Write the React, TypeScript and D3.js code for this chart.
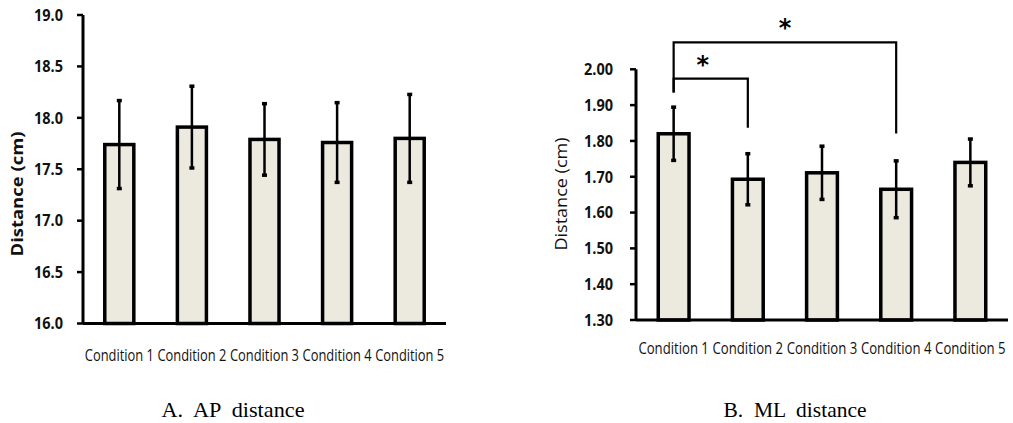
import React from 'react';
import * as d3 from 'd3';

// values
const conditions = ['Condition 1', 'Condition 2', 'Condition 3', 'Condition 4', 'Condition 5'];

const apMeans = [17.74, 17.91, 17.79, 17.76, 17.8];
const apErrors = [0.43, 0.4, 0.35, 0.39, 0.43];
const apTicks = [16.0, 16.5, 17.0, 17.5, 18.0, 18.5, 19.0];

const mlMeans = [1.82, 1.693, 1.711, 1.665, 1.74];
const mlErrors = [0.075, 0.072, 0.075, 0.08, 0.066];
const mlTicks = [1.3, 1.4, 1.5, 1.6, 1.7, 1.8, 1.9, 2.0];

// significance brackets for ML distance (in data units)
const mlBrackets = [
  { from: 0, to: 1, level: 1.974, leftEnd: 1.935, rightEnd: 1.837, shift: -8 },
  { from: 0, to: 3, level: 2.075, leftEnd: 1.935, rightEnd: 1.821, shift: 0 },
];

const FILL = '#ECE9DF';
const LABEL_FONT = "'Open Sans', 'Noto Sans', sans-serif";

type Bracket = { from: number; to: number; level: number; leftEnd: number; rightEnd: number; shift: number };

type PanelProps = {
  means: number[];
  errors: number[];
  ticks: number[];
  fmt: string;
  xRange: [number, number];
  yRange: [number, number];
  pad: number;
  tickX: number;
  titleX: number;
  titleLen: number;
  titleWeight: string;
  catY: number;
  caption: string;
  captionX: number;
  brackets?: Bracket[];
};

const Panel = ({ means, errors, ticks, fmt, xRange, yRange, pad, tickX, titleX, titleLen, titleWeight, catY, caption, captionX, brackets = [] }: PanelProps) => {
  const x = d3.scaleBand<string>().domain(conditions).range(xRange).paddingInner(pad).paddingOuter(0.3);
  const y = d3.scaleLinear().domain([ticks[0], ticks[ticks.length - 1]]).range(yRange);
  const f = d3.format(fmt);
  const bw = x.bandwidth();
  const cx = (i: number) => (x(conditions[i]) as number) + bw / 2;
  const x0 = xRange[0];
  const titleY = 194;

  return (
    <g>
      {/* bars */}
      {means.map((m, i) => (
        <rect key={i} x={x(conditions[i])} y={y(m)} width={bw} height={y(ticks[0]) - y(m)}
          fill={FILL} stroke="#000" strokeWidth={3.5} />
      ))}
      {/* error bars */}
      {means.map((m, i) => (
        <g key={'e' + i}>
          <line x1={cx(i)} x2={cx(i)} y1={y(m - errors[i])} y2={y(m + errors[i])} stroke="#000" strokeWidth={2.5} />
          <rect x={cx(i) - 2.5} y={y(m + errors[i]) - 1.5} width={5} height={3.5} fill="#000" />
          <rect x={cx(i) - 2.5} y={y(m - errors[i]) - 2} width={5} height={3.5} fill="#000" />
        </g>
      ))}
      {/* axes */}
      <line x1={x0} x2={x0} y1={yRange[1]} y2={yRange[0]} stroke="#000" strokeWidth={3} />
      <line x1={x0} x2={xRange[1]} y1={yRange[0]} y2={yRange[0]} stroke="#000" strokeWidth={3} />
      {ticks.map((t) => (
        <g key={t}>
          <line x1={x0 - 6} x2={x0} y1={y(t)} y2={y(t)} stroke="#000" strokeWidth={2.5} />
          <text x={tickX} y={y(t)} dy="0.36em" textAnchor="end" fontFamily={LABEL_FONT} fontWeight="bold" fontSize={16}
            fill="#111" textLength={29} lengthAdjust="spacingAndGlyphs">
            {f(t)}
          </text>
        </g>
      ))}
      <text transform={`translate(${titleX},${titleY}) rotate(-90)`} textAnchor="middle" dy="0.35em"
        fontFamily={LABEL_FONT} fontWeight={titleWeight} fontSize={16} fill="#111"
        textLength={titleLen} lengthAdjust="spacingAndGlyphs">
        Distance (cm)
      </text>
      {/* category labels */}
      {conditions.map((c, i) => (
        <text key={c} x={cx(i)} y={catY} textAnchor="middle" fontFamily={LABEL_FONT} fontSize={16}
          fill="#111" textLength={x.step() * 0.95} lengthAdjust="spacingAndGlyphs">
          {c}
        </text>
      ))}
      {/* significance brackets */}
      {brackets.map((b, i) => (
        <g key={'b' + i}>
          <path d={`M${cx(b.from)},${y(b.leftEnd)}V${y(b.level)}H${cx(b.to)}V${y(b.rightEnd)}`}
            fill="none" stroke="#000" strokeWidth={2.2} />
          <text x={(cx(b.from) + cx(b.to)) / 2 + b.shift} y={y(b.level) - 6} textAnchor="middle"
            fontFamily="'DejaVu Sans', sans-serif" fontWeight="bold" fontSize={24} fill="#000">
            *
          </text>
        </g>
      ))}
      <text x={captionX} y={417} textAnchor="middle" fontFamily="'Liberation Serif', 'Times New Roman', serif"
        fontSize={22} fill="#000" textLength={143} lengthAdjust="spacingAndGlyphs" style={{ whiteSpace: 'pre' }}>
        {caption}
      </text>
    </g>
  );
};

export default function App() {
  return (
    <svg width={1013} height={423} style={{ position: 'absolute', left: 0, top: 0, background: '#fff' }}>
      <rect width={1013} height={423} fill="#fff" />
      <Panel means={apMeans} errors={apErrors} ticks={apTicks} fmt=".1f"
        xRange={[83, 446]} yRange={[323.5, 15]} pad={0.6} tickX={63} titleX={17} titleLen={125} titleWeight="bold"
        catY={361} caption="A.  AP  distance" captionX={233} />
      <Panel means={mlMeans} errors={mlErrors} ticks={mlTicks} fmt=".2f"
        xRange={[636, 1008]} yRange={[320, 69.3]} pad={0.585} tickX={613} titleX={561} titleLen={113} titleWeight="normal"
        catY={354} caption="B.  ML  distance" captionX={795} brackets={mlBrackets} />
    </svg>
  );
}
